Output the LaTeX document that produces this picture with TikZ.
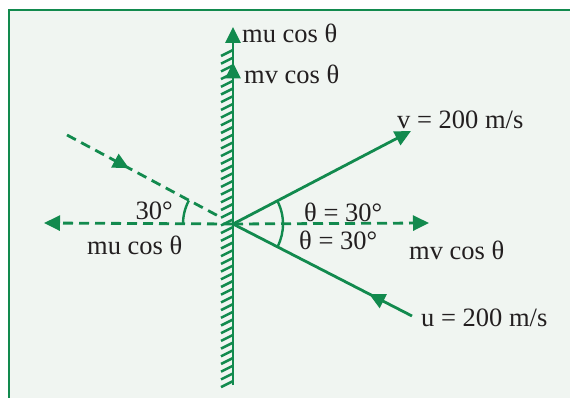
\documentclass[tikz,border=0pt]{standalone}
\usepackage{fontspec}
\setmainfont{Liberation Serif}
\usetikzlibrary{arrows.meta,decorations.markings,calc}
\definecolor{gr}{RGB}{18,138,78}
\definecolor{bgc}{RGB}{240,245,241}
\definecolor{txt}{RGB}{35,31,32}
\tikzset{
  vec/.style={draw=gr,line width=2.8pt},
  dvec/.style={draw=gr,line width=2.8pt,dash pattern=on 10pt off 6pt},
  tip/.style={-{Triangle[length=16pt,width=15pt]}},
  lbl/.style={text=txt,inner sep=0pt,font=\fontsize{26.5}{29}\selectfont},
  hatch/.style={draw=gr,line width=2.5pt},
  midarrow/.style={postaction={decorate},decoration={markings,
     mark=at position #1 with {\arrow[gr]{Triangle[length=16pt,width=15pt]}}}}
}
\begin{document}
\begin{tikzpicture}[x=1pt,y=-1pt]
\useasboundingbox (0,0) rectangle (570,398);
\fill[white] (0,0) rectangle (570,398);
\draw[draw=gr,fill=bgc,line width=2.8pt] (9,10) rectangle (585,410);
% key points
\coordinate (O) at (233,224);
\coordinate (wt) at (233,27);
\coordinate (wb) at (233,385);
\coordinate (L) at (44,223);
\coordinate (R) at (429,223);
\coordinate (V) at (411,131);
\coordinate (U) at (412,316);
\coordinate (D) at (67,135);
\coordinate (De) at (222,218);
% hatching
\foreach \y in {50,57.7,...,382} \draw[hatch] (221,{\y+6}) -- (233,\y);
% wall
\draw[vec] (wb) -- (O);
\draw[vec,tip,midarrow=0.82] (O) -- (wt);
% horizontal dashed
\draw[dvec,tip] (O) -- (L);
\draw[dvec,tip] (O) -- (R);
% reflected / incident lines
\draw[vec,tip] (O) -- (V);
\draw[vec,midarrow=0.24] (U) -- (O);
\draw[dvec,midarrow=0.4] (D) -- (De);
% angle arcs
\draw[gr,line width=2.4pt] ($(O)+(152:50pt)$) arc[start angle=152,end angle=180,radius=50pt];
\draw[gr,line width=2.4pt] ($(O)+(27.7:50pt)$) arc[start angle=27.7,end angle=0,radius=50pt];
\draw[gr,line width=2.4pt] ($(O)+(-27.2:50pt)$) arc[start angle=-27.2,end angle=0,radius=50pt];
% labels
\node[lbl,anchor=west] (t1) at (242,33) {mu cos θ};
\node[lbl,anchor=west] (t2) at (244,74) {mv cos θ};
\node[lbl,anchor=west] (t3) at (397,120) {v = 200 m/s};
\node[lbl,anchor=west] (t4) at (304,212) {θ = 30°};
\node[lbl,anchor=west] (t5) at (299,240) {θ = 30°};
\node[lbl,anchor=west] (t6) at (409,250) {mv cos θ};
\node[lbl,anchor=west] (t7) at (421,318) {u = 200 m/s};
\node[lbl,anchor=east] (t8) at (173,211) {30°};
\node[lbl,anchor=west] (t9) at (87,245) {mu cos θ};
\end{tikzpicture}
\end{document}
